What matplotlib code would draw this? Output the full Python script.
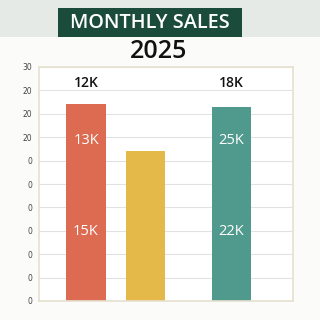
import matplotlib.pyplot as plt
from matplotlib.patches import Rectangle

# data
positions = [0, 1, 2.445]
values = [8.42, 6.41, 8.29]
colors = ["#dc6b52", "#e5b84a", "#4f9a8d"]
top_labels = ["12K", "", "18K"]
upper_labels = ["13K", "", "25K"]
lower_labels = ["15K", "", "22K"]
tick_vals = list(range(0, 11))
tick_text = ["0", "0", "0", "0", "0", "0", "0", "20", "20", "20", "30"]

W, H = 320, 320
fig = plt.figure(figsize=(3.2, 3.2), dpi=100)
fig.patch.set_facecolor("#fbfbfa")

# top band
fig.patches.append(Rectangle((0, 1 - 37 / H), 1, 37 / H, transform=fig.transFigure,
                             facecolor="#e5eae7", edgecolor="none", zorder=0))
# title box
fig.patches.append(Rectangle((58 / W, 1 - 37 / H), 184 / W, 29 / H, transform=fig.transFigure,
                             facecolor="#1b4b3a", edgecolor="none", zorder=1))
fig.text(150 / W, 1 - 22.5 / H, "MONTHLY SALES", color="white", fontsize=14.3,
         fontweight="semibold", family="Open Sans", ha="center", va="center")
fig.text(159 / W, 1 - 51 / H, "2025", color="#111111", fontsize=18,
         fontweight="semibold", family="Open Sans", ha="center", va="center")

ax = fig.add_axes([39 / W, 1 - 301 / H, 254 / W, 234 / H])
ax.set_facecolor("white")
ax.bar(positions, values, width=0.67, color=colors, zorder=2)
ax.set_xlim(-0.79, 3.48)
ax.set_ylim(0, 10)
ax.set_yticks(tick_vals)
ax.set_yticklabels(tick_text, fontsize=5.5, color="#444444")
ax.tick_params(axis="y", length=0, pad=5)
ax.set_xticks([])
ax.grid(axis="y", color="#e2e2e2", linewidth=0.8, zorder=0)
for sp in ax.spines.values():
    sp.set_color("#e6e1cf")
    sp.set_linewidth(1.2)

for x, t, u, l in zip(positions, top_labels, upper_labels, lower_labels):
    ax.text(x, 9.3, t, ha="center", va="center", fontsize=10, color="#111111",
            family="Open Sans", fontweight="semibold", zorder=3)
    ax.text(x, 6.84, u, ha="center", va="center", fontsize=10.5, color="white",
            family="Open Sans", zorder=3)
    ax.text(x, 2.95, l, ha="center", va="center", fontsize=10.5, color="white",
            family="Open Sans", zorder=3)

fig.savefig("out.png", dpi=100, facecolor=fig.get_facecolor())
